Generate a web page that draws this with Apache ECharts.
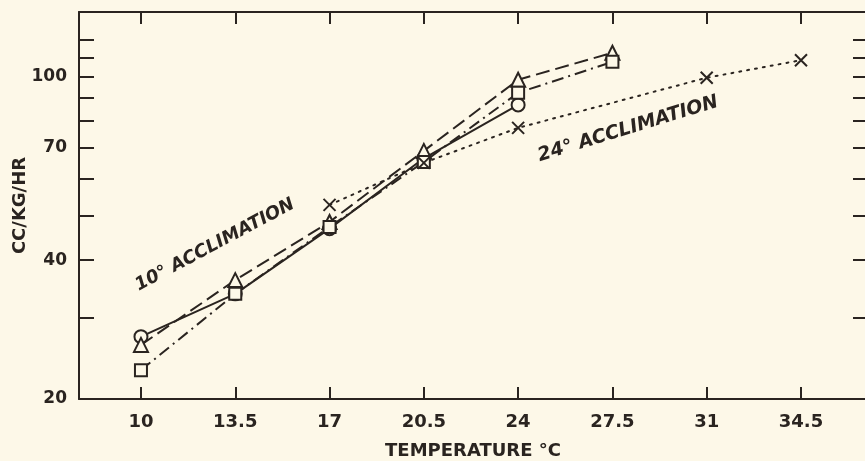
<!DOCTYPE html>
<html>
<head>
<meta charset="utf-8">
<script src="https://cdn.jsdelivr.net/npm/echarts@6/dist/echarts.min.js"></script>
<style>
html,body{margin:0;padding:0;background:#fdf8e8;}
#c{width:865px;height:461px;}
</style>
</head>
<body>
<div id="c"></div>
<script>
const temps = [10, 13.5, 17, 20.5, 24, 27.5, 31, 34.5];
const circleVals   = [27.3, 33.8, 46.8, 66.5, 86.8, null, null, null];
const triangleVals = [26.2, 36.2, 48.4, 69.0, 98.4, 112.6, null, null];
const squareVals   = [23.1, 33.8, 47.2, 65.3, 92.2, 107.6, null, null];
const crossVals    = [null, null, 52.7, 65.0, 77.4, null, 99.4, 108.5];
const yTickValues  = [20, 30, 40, 50, 60, 70, 80, 90, 100, 110, 120];
const yLabelValues = [20, 40, 70, 100];

const INK = '#2a2420';
const BG = '#fdf8e8';
const FONT = 'DejaVu Sans';

function pairs(vals) {
  const out = [];
  temps.forEach((t, i) => { if (vals[i] != null) out.push([t, vals[i]]); });
  return out;
}

function lineSeries(name, vals, symbol, lineType, size) {
  return {
    name: name, type: 'line', data: pairs(vals),
    symbol: symbol, symbolSize: size, showAllSymbol: true,
    lineStyle: { color: INK, width: 2, type: lineType, cap: 'butt' },
    itemStyle: { color: BG, borderColor: INK, borderWidth: 2 },
    emphasis: { disabled: true },
    z: 3
  };
}

const chart = echarts.init(document.getElementById('c'), null, { renderer: 'canvas' });
const xCommon = {
  type: 'value', min: 7.7, max: 36.95,
  splitLine: { show: false },
  axisLine: { show: true, lineStyle: { color: INK, width: 2 } },
  axisTick: { show: true, inside: true, length: 12, customValues: temps, lineStyle: { color: INK, width: 2 } }
};
const yCommon = {
  type: 'log', logBase: 10, min: 20, max: 138,
  splitLine: { show: false },
  axisLine: { show: true, lineStyle: { color: INK, width: 2 } },
  axisTick: { show: true, inside: true, length: 15, customValues: yTickValues, lineStyle: { color: INK, width: 2 } }
};

chart.setOption({
  backgroundColor: BG,
  animation: false,
  grid: { left: 79, right: -2, top: 12, bottom: 62, containLabel: false, outerBoundsMode: 'none' },
  xAxis: [
    Object.assign({}, xCommon, {
      position: 'bottom',
      name: 'TEMPERATURE °C', nameLocation: 'middle', nameGap: 43, nameMoveOverlap: false,
      nameTextStyle: { color: INK, fontFamily: FONT, fontSize: 18, fontWeight: 'bold' },
      axisLabel: { show: true, customValues: temps, margin: 14, color: INK, fontFamily: FONT, fontSize: 18, fontWeight: 'bold' }
    }),
    Object.assign({}, xCommon, { position: 'top', axisLabel: { show: false } })
  ],
  yAxis: [
    Object.assign({}, yCommon, {
      position: 'left',
      name: 'CC/KG/HR', nameLocation: 'middle', nameGap: 50, nameRotate: 90, nameMoveOverlap: false,
      nameTextStyle: { color: INK, fontFamily: FONT, fontSize: 18, fontWeight: 'bold' },
      axisLabel: { show: true, customValues: yLabelValues, margin: 12, color: INK, fontFamily: FONT, fontSize: 17, fontWeight: 'bold' }
    }),
    Object.assign({}, yCommon, { position: 'right', axisLabel: { show: false }, axisTick: Object.assign({}, yCommon.axisTick, { length: 14 }) })
  ],
  series: [
    lineSeries('circle', circleVals, 'circle', 'solid', 13),
    lineSeries('triangle', triangleVals, 'triangle', [14, 6], 14),
    lineSeries('square', squareVals, 'rect', [12, 5, 2, 5], 12),
    Object.assign(lineSeries('cross', crossVals, 'path://M0,0L10,10M10,0L0,10', [2, 6], 12), {
      itemStyle: { color: 'none', borderColor: INK, borderWidth: 2 },
      lineStyle: { color: INK, width: 2, type: [2, 6], cap: 'round' }
    })
  ],
  graphic: [
    { type: 'text', x: 215, y: 245, rotation: 28 * Math.PI / 180,
      style: { text: '10° ACCLIMATION', x: 0, y: 0, align: 'center', verticalAlign: 'middle',
        fill: INK, font: 'italic bold 18px "DejaVu Sans"' } },
    { type: 'text', x: 628, y: 129, rotation: 17 * Math.PI / 180,
      style: { text: '24° ACCLIMATION', x: 0, y: 0, align: 'center', verticalAlign: 'middle',
        fill: INK, font: 'italic bold 19px "DejaVu Sans"' } }
  ]
});
</script>
</body>
</html>
